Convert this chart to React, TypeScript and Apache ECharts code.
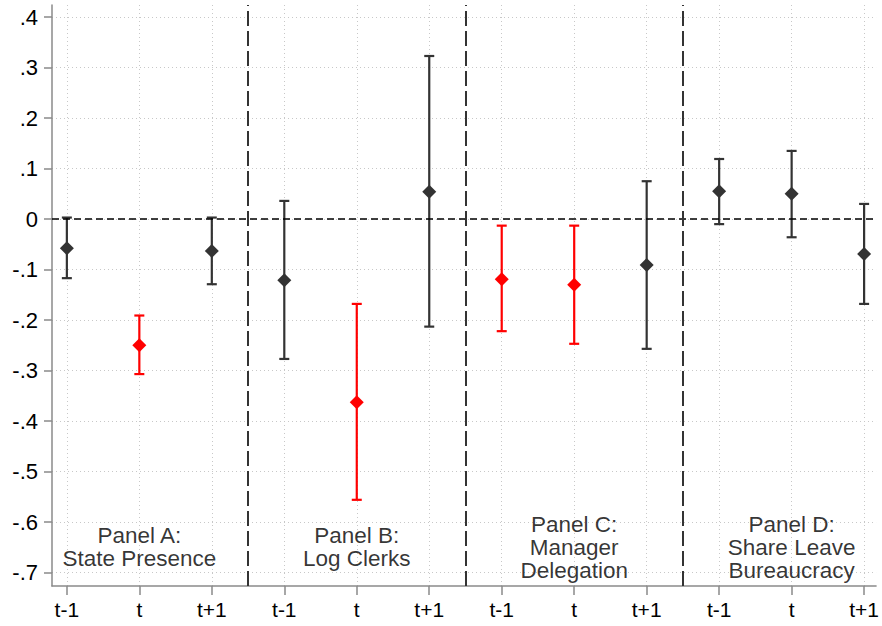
import React, { useEffect, useRef } from "react";
import * as echarts from "echarts";

const periodLabels = ["t-1", "t", "t+1"];
const panelTitles = [
  "Panel A:\nState Presence",
  "Panel B:\nLog Clerks",
  "Panel C:\nManager\nDelegation",
  "Panel D:\nShare Leave\nBureaucracy",
];
const estimates = [-0.058, -0.25, -0.063, -0.121, -0.363, 0.054, -0.119, -0.13, -0.091, 0.055, 0.05, -0.069];
const lowerCI = [-0.117, -0.307, -0.129, -0.277, -0.556, -0.213, -0.222, -0.247, -0.257, -0.01, -0.036, -0.168];
const upperCI = [0.003, -0.191, 0.003, 0.036, -0.168, 0.323, -0.013, -0.013, 0.075, 0.119, 0.135, 0.03];
const significant = [false, true, false, false, true, false, true, true, false, false, false, false];
const yTickValues = [-0.7, -0.6, -0.5, -0.4, -0.3, -0.2, -0.1, 0, 0.1, 0.2, 0.3, 0.4];
const xTickValues = [1, 2, 3, 4, 5, 6, 7, 8, 9, 10, 11, 12];
const dividers = [3.5, 6.5, 9.5];
const panelCenters = [2, 5, 8, 11];
const panelLabelY = -0.65;

const DARK = "#333333";
const RED = "#ff0000";
const FONT = "'Liberation Sans', Arial, Helvetica, sans-serif";

export default function App() {
  const ref = useRef<HTMLDivElement>(null);
  useEffect(() => {
    if (!ref.current) return;
    const chart = echarts.init(ref.current, undefined, { renderer: "svg" });

    const errData = estimates.map((_, i) => [xTickValues[i], lowerCI[i], upperCI[i], significant[i] ? 1 : 0]);
    const pointData = estimates.map((v, i) => ({
      value: [xTickValues[i], v],
      itemStyle: { color: significant[i] ? RED : DARK, opacity: 1 },
    }));
    const labelData = panelTitles.map((t, i) => ({ value: [panelCenters[i], panelLabelY], name: t }));

    const fmtY = (v: number) => {
      const r = Math.round(v * 10) / 10;
      if (r === 0) return "0";
      const s = r.toFixed(1);
      return s.replace("0.", ".");
    };

    chart.setOption({
      animation: false,
      backgroundColor: "#ffffff",
      grid: { left: 52, right: 0, top: 5, bottom: 40, containLabel: false },
      xAxis: {
        type: "value",
        min: 0.795,
        max: 12.165,
        axisLine: { show: true, onZero: false, lineStyle: { color: "#8a8a8a", width: 1.5 } },
        axisTick: { show: true, customValues: xTickValues, length: 9, lineStyle: { color: "#8a8a8a", width: 1.5 } },
        axisLabel: {
          show: true,
          customValues: xTickValues,
          formatter: (v: number) => periodLabels[(Math.round(v) - 1) % 3],
          color: "#000",
          fontSize: 21,
          fontFamily: FONT,
          margin: 13,
        },
        splitLine: { show: true, lineStyle: { color: "#c8c8c8", type: [1, 3], width: 1 } },
      },
      yAxis: {
        type: "value",
        min: -0.7267,
        max: 0.424,
        axisLine: { show: true, onZero: false, lineStyle: { color: "#8a8a8a", width: 1.5 } },
        axisTick: { show: true, customValues: yTickValues, length: 8, lineStyle: { color: "#8a8a8a", width: 1.5 } },
        axisLabel: {
          show: true,
          customValues: yTickValues,
          formatter: fmtY,
          color: "#000",
          fontSize: 22,
          fontFamily: FONT,
          margin: 14,
        },
        splitLine: { show: true, lineStyle: { color: "#c8c8c8", type: [1, 3], width: 1 } },
      },
      series: [
        {
          type: "line",
          data: [],
          silent: true,
          markLine: {
            silent: true,
            symbol: ["none", "none"],
            label: { show: false },
            data: [
              { yAxis: 0, lineStyle: { color: "#000", type: [7, 4], width: 1.5 } },
              ...dividers.map((d) => ({ xAxis: d, lineStyle: { color: DARK, type: [15, 5], width: 2 } })),
            ],
          },
        },
        {
          type: "custom",
          silent: true,
          data: errData,
          encode: { x: 0, y: [1, 2] },
          renderItem: (params: any, api: any) => {
            const x = api.value(0);
            const lo = api.coord([x, api.value(1)]);
            const hi = api.coord([x, api.value(2)]);
            const color = api.value(3) ? RED : DARK;
            const half = 5;
            const style = { stroke: color, lineWidth: 2.2, fill: "none" };
            return {
              type: "group",
              children: [
                { type: "line", shape: { x1: lo[0], y1: lo[1], x2: hi[0], y2: hi[1] }, style },
                { type: "line", shape: { x1: lo[0] - half, y1: lo[1], x2: lo[0] + half, y2: lo[1] }, style },
                { type: "line", shape: { x1: hi[0] - half, y1: hi[1], x2: hi[0] + half, y2: hi[1] }, style },
              ],
            };
          },
          z: 3,
        },
        {
          type: "scatter",
          silent: true,
          symbol: "diamond",
          symbolSize: [14, 14],
          data: pointData,
          z: 4,
        },
        {
          type: "scatter",
          silent: true,
          symbolSize: 0,
          data: labelData,
          label: {
            show: true,
            position: "inside",
            formatter: "{b}",
            color: "#000",
            fontSize: 22.5,
            lineHeight: 23,
            fontFamily: FONT,
            align: "center",
            verticalAlign: "middle",
          },
          z: 5,
        },
      ],
    });
    return () => chart.dispose();
  }, []);
  return <div ref={ref} style={{ position: "fixed", left: 0, top: 0, width: 882, height: 626 }} />;
}
